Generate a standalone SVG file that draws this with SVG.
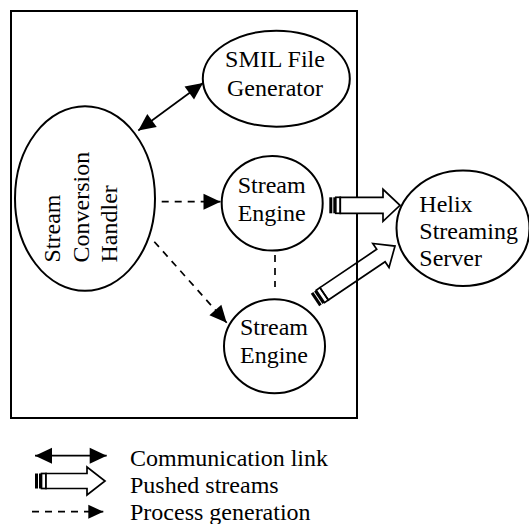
<svg xmlns="http://www.w3.org/2000/svg" width="529" height="524" viewBox="0 0 529 524">
<style>
.shape{fill:#fff;stroke:#000;stroke-width:2}
.lbl{font-family:"Liberation Serif","Times New Roman",serif;font-size:24px;fill:#000}
.mid{text-anchor:middle}
.line{stroke:#000;stroke-width:1.7;fill:none}
.dash{stroke:#000;stroke-width:1.7;fill:none;stroke-dasharray:7 6}
.push{stroke:#000;stroke-width:1.7}
</style>
<defs>
<marker id="ah" markerUnits="userSpaceOnUse" markerWidth="18" markerHeight="16" refX="17" refY="8" orient="auto-start-reverse" overflow="visible">
<path d="M0,0 L17,8 L0,16 Z" fill="#000"/>
</marker>
<marker id="ahs" markerUnits="userSpaceOnUse" markerWidth="16" markerHeight="14" refX="15" refY="7" orient="auto" overflow="visible">
<path d="M0,0 L15,7 L0,14 Z" fill="#000"/>
</marker>
</defs>
<rect id="frame" x="11" y="11" width="346" height="407" fill="none" stroke="#000" stroke-width="2"/>

<g id="smil">
<ellipse class="shape" cx="276.3" cy="78.7" rx="73.5" ry="48"/>
<text class="lbl mid" x="275" y="67">SMIL File</text>
<text class="lbl mid" x="275" y="95.5">Generator</text>
</g>

<g id="handler">
<ellipse class="shape" cx="85" cy="198.5" rx="70" ry="92.3"/>
<text class="lbl" transform="translate(60,262.5) rotate(-90)">Stream</text>
<text class="lbl" transform="translate(88.7,262.5) rotate(-90)">Conversion</text>
<text class="lbl" transform="translate(117.3,262.5) rotate(-90)">Handler</text>
</g>

<g id="engine1">
<ellipse class="shape" cx="272.2" cy="203.3" rx="50.5" ry="47.3"/>
<text class="lbl mid" x="271.7" y="193.3">Stream</text>
<text class="lbl mid" x="271.7" y="221">Engine</text>
</g>

<g id="engine2">
<ellipse class="shape" cx="274.5" cy="346.3" rx="50.5" ry="47"/>
<text class="lbl mid" x="274" y="335">Stream</text>
<text class="lbl mid" x="274" y="362.7">Engine</text>
</g>

<g id="helix">
<ellipse class="shape" cx="463" cy="228.3" rx="66.5" ry="57.7"/>
<text class="lbl" x="419.3" y="211.5">Helix</text>
<text class="lbl" x="419.3" y="239.3">Streaming</text>
<text class="lbl" x="419.3" y="265.5">Server</text>
</g>

<g id="connectors">
<line class="line" x1="138.3" y1="130.5" x2="203" y2="83" marker-start="url(#ah)" marker-end="url(#ah)"/>
<line class="dash" x1="161.7" y1="201.7" x2="220.5" y2="201.7" marker-end="url(#ah)"/>
<line class="dash" x1="154.3" y1="241.7" x2="226.7" y2="322.7" marker-end="url(#ah)"/>
<line class="dash" x1="275" y1="255" x2="275" y2="287"/>
<g transform="translate(329.3,205.3)">
<rect x="0" y="-8" width="3" height="16" fill="#000"/>
<rect x="4" y="-8" width="2.5" height="16" fill="#000"/>
<rect class="push" x="6.5" y="-8" width="4.5" height="16" fill="#fff"/>
<polygon class="push" fill="#fff" points="11,-8 53.7,-8 53.7,-16 70.7,0 53.7,16 53.7,8 11,8"/>
</g>
<g transform="translate(315,300) rotate(-34)">
<rect x="0" y="-7.5" width="3" height="15" fill="#000"/>
<rect x="4" y="-7.5" width="2.5" height="15" fill="#000"/>
<rect class="push" x="6.5" y="-7.5" width="4.5" height="15" fill="#fff"/>
<polygon class="push" fill="none" points="11,-7.5 79.5,-7.5 79.5,-14.5 96.5,0 79.5,14.5 79.5,7.5 11,7.5"/>
</g>
</g>

<g id="legend">
<line class="line" x1="35" y1="455.7" x2="106.7" y2="455.7" marker-start="url(#ah)" marker-end="url(#ah)"/>
<g transform="translate(35,481)">
<rect x="0" y="-7.5" width="3" height="15" fill="#000"/>
<rect x="4" y="-7.5" width="2.5" height="15" fill="#000"/>
<rect class="push" x="6.5" y="-7.5" width="4.5" height="15" fill="#fff"/>
<polygon class="push" fill="#fff" points="11,-7.5 52,-7.5 52,-14 70,0 52,14 52,7.5 11,7.5"/>
</g>
<line class="dash" x1="32" y1="511.7" x2="103.3" y2="511.7" marker-end="url(#ahs)"/>
<text class="lbl" x="130" y="466">Communication link</text>
<text class="lbl" x="130" y="493">Pushed streams</text>
<text class="lbl" x="130" y="520">Process generation</text>
</g>
</svg>
